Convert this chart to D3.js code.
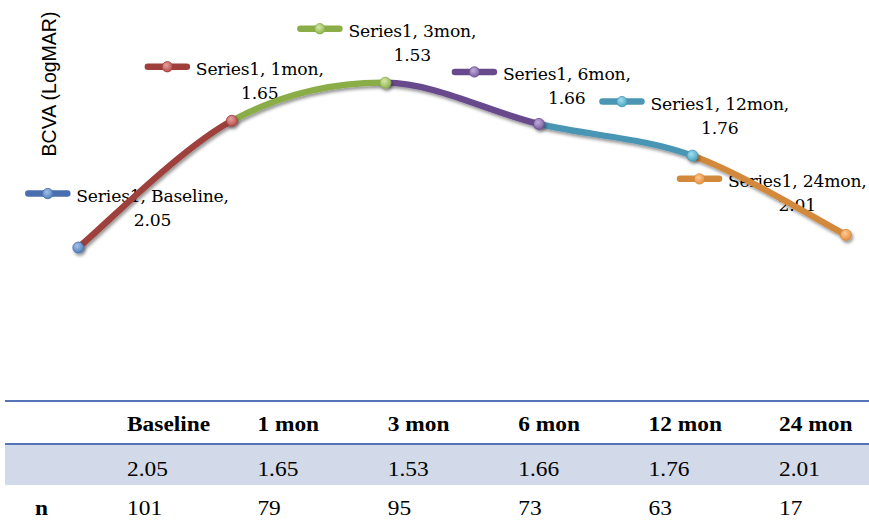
<!DOCTYPE html>
<html>
<head>
<meta charset="utf-8">
<script src="https://cdn.jsdelivr.net/npm/d3@7"></script>
<style>
  html, body { margin: 0; padding: 0; background: #fff; }
  svg { display: block; }
</style>
</head>
<body>
<svg id="chart" width="869" height="525"></svg>
<script>
// ---- data ----
const categories   = ["Baseline", "1mon", "3mon", "6mon", "12mon", "24mon"];
const tableHeaders = ["Baseline", "1 mon", "3 mon", "6 mon", "12 mon", "24 mon"];
const bcva         = [2.05, 1.65, 1.53, 1.66, 1.76, 2.01];
const nCounts      = [101, 79, 95, 73, 63, 17];
const seriesName   = "Series1";
const yAxisTitle   = "BCVA (LogMAR)";
const nRowLabel    = "n";

// ---- styling (one colour per point, segment i is drawn in point i's colour) ----
const lineColors   = ["#4A6FAE", "#9E3F3B", "#8AAD47", "#67498C", "#4A96B4", "#D3893B"];
const markerLight  = ["#A9C0E8", "#E3A3A0", "#D3E8A6", "#BFAEDA", "#A6DDEE", "#FBC995"];
const markerBase   = ["#4F81BD", "#B8504C", "#93B553", "#7B5E9E", "#47A7C2", "#E8913F"];
// data-label placement: key start offset from its point (px)
const labelShift   = [[-53, -54], [-87, -54], [-88, -54], [-87, -52], [-93, -54], [-169, -56]];

const svg = d3.select("#chart");
const defs = svg.append("defs");

const shadow = defs.append("filter").attr("id", "shadow")
  .attr("x", "-20%").attr("y", "-20%").attr("width", "140%").attr("height", "160%");
shadow.append("feDropShadow")
  .attr("dx", 1.5).attr("dy", 2.5).attr("stdDeviation", 1.7)
  .attr("flood-color", "#000").attr("flood-opacity", 0.4);

categories.forEach((c, i) => {
  const g = defs.append("radialGradient").attr("id", "mk" + i)
    .attr("cx", "40%").attr("cy", "35%").attr("r", "65%");
  g.append("stop").attr("offset", "0%").attr("stop-color", markerLight[i]);
  g.append("stop").attr("offset", "100%").attr("stop-color", markerBase[i]);
});

// ---- scales ----
const x = d3.scalePoint().domain(categories).range([78.3, 846]);
const y = d3.scaleLinear().domain([1.3, 2.3]).range([9.8, 326.8]);

const pts = categories.map((c, i) => [x(c), y(bcva[i])]);

// ---- axis title ----
svg.append("text")
  .attr("transform", "translate(56,84) rotate(-90)")
  .attr("text-anchor", "middle")
  .attr("font-family", "'Liberation Sans', Arial, sans-serif")
  .attr("font-size", 19.5)
  .attr("fill", "#000")
  .text(yAxisTitle);

// ---- data labels (drawn beneath the line) ----
const labelFont = "'DejaVu Serif', Cambria, serif";
const labels = svg.append("g").attr("class", "labels");
categories.forEach((c, i) => {
  const [px, py] = pts[i];
  const kx = px + labelShift[i][0];
  const ky = py + labelShift[i][1];
  const g = labels.append("g");
  g.append("line")
    .attr("x1", kx + 3).attr("x2", kx + 42)
    .attr("y1", ky).attr("y2", ky)
    .attr("stroke", lineColors[i]).attr("stroke-width", 6.5)
    .attr("stroke-linecap", "round");
  g.append("circle")
    .attr("cx", kx + 22.5).attr("cy", ky).attr("r", 5.2)
    .attr("fill", `url(#mk${i})`).attr("stroke", lineColors[i]).attr("stroke-width", 0.8);
  const t1 = g.append("text")
    .attr("x", kx + 51).attr("y", ky + 8.5)
    .attr("font-family", labelFont).attr("font-size", 17.2)
    .attr("letter-spacing", -0.2).attr("fill", "#000")
    .text(`${seriesName}, ${c},`);
  const w = t1.node().getComputedTextLength();
  g.append("text")
    .attr("x", kx + 51 + w / 2).attr("y", ky + 32.5)
    .attr("text-anchor", "middle")
    .attr("font-family", labelFont).attr("font-size", 17.2)
    .attr("letter-spacing", -0.2).attr("fill", "#000")
    .text(d3.format(".2f")(bcva[i]));
});

// ---- smoothed line, one segment per point colour ----
const lineG = svg.append("g").attr("filter", "url(#shadow)");
for (let i = 1; i < pts.length; i++) {
  const p0 = pts[i - 2] || pts[i - 1];
  const p1 = pts[i - 1];
  const p2 = pts[i];
  const p3 = pts[i + 1] || pts[i];
  const path = d3.path();
  path.moveTo(p1[0], p1[1]);
  path.bezierCurveTo(
    p1[0] + (p2[0] - p0[0]) / 6, p1[1] + (p2[1] - p0[1]) / 6,
    p2[0] - (p3[0] - p1[0]) / 6, p2[1] - (p3[1] - p1[1]) / 6,
    p2[0], p2[1]);
  lineG.append("path")
    .attr("d", path.toString())
    .attr("fill", "none")
    .attr("stroke", lineColors[i])
    .attr("stroke-width", 6.3)
    .attr("stroke-linecap", "butt");
}

// ---- markers ----
const markG = svg.append("g").attr("filter", "url(#shadow)");
markG.selectAll("circle").data(bcva).join("circle")
  .attr("cx", (d, i) => x(categories[i]))
  .attr("cy", d => y(d))
  .attr("r", 5.5)
  .attr("fill", (d, i) => `url(#mk${i})`)
  .attr("stroke", (d, i) => lineColors[i])
  .attr("stroke-width", 0.8);

// ---- data table ----
const tableFont = "'Liberation Serif', 'Times New Roman', serif";
const col = d3.scalePoint().domain(tableHeaders).range([127, 779]);
const stretch = 1.17;
const table = svg.append("g").attr("class", "table");

table.append("rect")
  .attr("x", 5).attr("y", 444).attr("width", 864).attr("height", 41)
  .attr("fill", "#D2D9E8");
table.append("line")
  .attr("x1", 5).attr("x2", 869).attr("y1", 401).attr("y2", 401)
  .attr("stroke", "#5673B8").attr("stroke-width", 2);
table.append("line")
  .attr("x1", 5).attr("x2", 869).attr("y1", 444).attr("y2", 444)
  .attr("stroke", "#5673B8").attr("stroke-width", 2);

function cell(text, tx, ty, bold) {
  table.append("text")
    .attr("transform", `translate(${tx},${ty}) scale(${stretch},1)`)
    .attr("font-family", tableFont)
    .attr("font-size", 20)
    .attr("font-weight", bold ? "bold" : "normal")
    .attr("fill", "#000")
    .text(text);
}
tableHeaders.forEach(h => cell(h, col(h), 431, true));
bcva.forEach((v, i) => cell(d3.format(".2f")(v), col(tableHeaders[i]), 476, false));
cell(nRowLabel, 35, 514.5, true);
nCounts.forEach((v, i) => cell(String(v), col(tableHeaders[i]), 514.5, false));
</script>
</body>
</html>
